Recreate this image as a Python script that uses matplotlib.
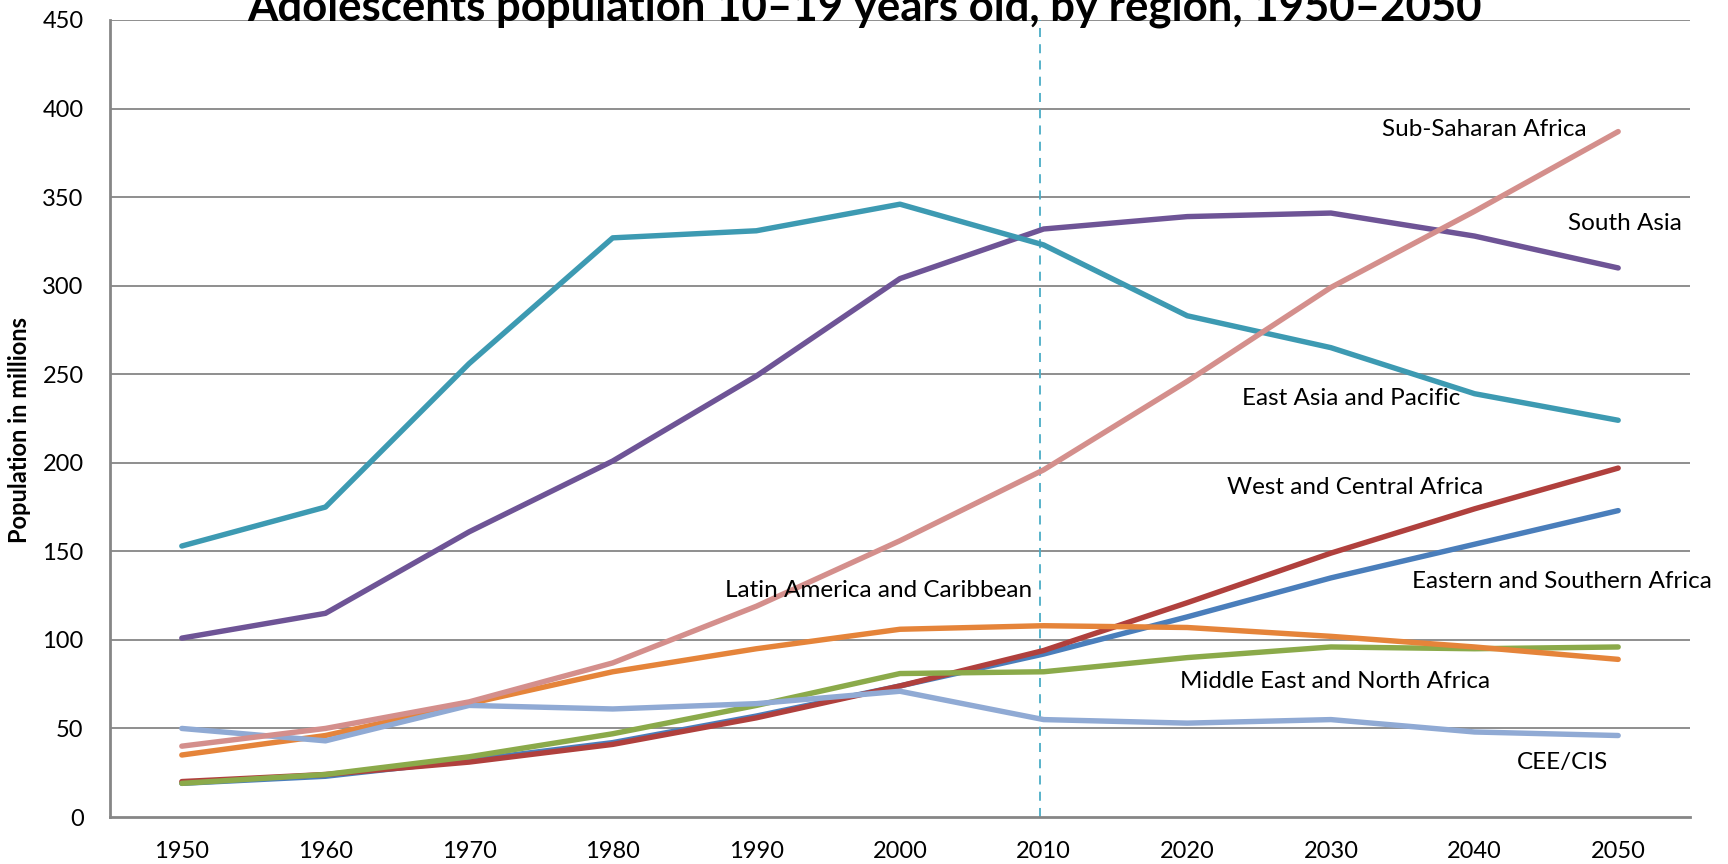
import matplotlib
matplotlib.use("Agg")
import matplotlib.pyplot as plt

years = [1950, 1960, 1970, 1980, 1990, 2000, 2010, 2020, 2030, 2040, 2050]

east_asia_pacific = [153, 175, 256, 327, 331, 346, 323, 283, 265, 239, 224]
south_asia = [101, 115, 161, 201, 249, 304, 332, 339, 341, 328, 310]
sub_saharan_africa = [40, 50, 65, 87, 119, 156, 196, 246, 299, 342, 387]
west_central_africa = [20, 24, 31, 41, 56, 74, 94, 121, 149, 174, 197]
eastern_southern_africa = [19, 23, 32, 42, 57, 74, 92, 113, 135, 154, 173]
latin_america_caribbean = [35, 46, 64, 82, 95, 106, 108, 107, 102, 96, 89]
middle_east_north_africa = [19, 24, 34, 47, 63, 81, 82, 90, 96, 95, 96]
cee_cis = [50, 43, 63, 61, 64, 71, 55, 53, 55, 48, 46]

series = [
    ("Eastern and Southern Africa", eastern_southern_africa, "#4A7EBB"),
    ("West and Central Africa", west_central_africa, "#B0403D"),
    ("Middle East and North Africa", middle_east_north_africa, "#8BAA4A"),
    ("South Asia", south_asia, "#6E5496"),
    ("East Asia and Pacific", east_asia_pacific, "#3D9AB2"),
    ("Latin America and Caribbean", latin_america_caribbean, "#E5843A"),
    ("CEE/CIS", cee_cis, "#90AAD4"),
    ("Sub-Saharan Africa", sub_saharan_africa, "#D48F8C"),
]

# label anchor positions (x in years, y in millions)
label_pos = {
    "Sub-Saharan Africa": (2040.7, 388),
    "South Asia": (2050.5, 335),
    "East Asia and Pacific": (2031.4, 236.5),
    "West and Central Africa": (2031.7, 186),
    "Eastern and Southern Africa": (2046.1, 133),
    "Latin America and Caribbean": (1998.5, 128),
    "Middle East and North Africa": (2030.3, 76.5),
    "CEE/CIS": (2046.1, 30.5),
}

plt.rcParams['font.family'] = ['Lato', 'DejaVu Sans']

fig = plt.figure(figsize=(17.28, 8.64), dpi=100)
ax = fig.add_axes([110/1728, 1 - 817/864, 1580/1728, (817-20)/864])

grid_c = "#868686"
ax.set_xlim(1945, 2055)
ax.set_ylim(0, 450)
ax.set_yticks(range(0, 451, 50))
ax.set_xticks(years)
ax.set_xticklabels([str(y) for y in years])
for yv in range(50, 451, 50):
    ax.axhline(yv, color=grid_c, lw=1.3, zorder=1)

ax.plot([2009.75, 2009.75], [0, 450], color="#4BACC6", lw=1.3, ls=(0, (5, 4)), zorder=2,
        clip_on=False)

for name, vals, col in series:
    ax.plot(years, vals, color=col, lw=3.9, solid_capstyle='round', zorder=3)

for name, (xx, yy) in label_pos.items():
    ax.text(xx, yy, name, ha='center', va='center', fontsize=17.5, color='black', zorder=4)

for s in ['top', 'right']:
    ax.spines[s].set_visible(False)
for s in ['left', 'bottom']:
    ax.spines[s].set_color(grid_c)
    ax.spines[s].set_linewidth(2)
ax.tick_params(axis='both', length=0, labelsize=17)
ax.tick_params(axis='x', pad=17)
ax.tick_params(axis='y', pad=19)

fig.text(20/1728, 1 - 430/864, "Population in millions", rotation=90,
         ha='center', va='center', fontsize=17, fontweight='bold')

fig.text(864/1728, 1 - 21/864, "Adolescents population 10\u201319 years old, by region, 1950\u20132050",
         ha='center', va='baseline', fontsize=31.5, fontweight='bold')

fig.savefig("out.png", dpi=100)
